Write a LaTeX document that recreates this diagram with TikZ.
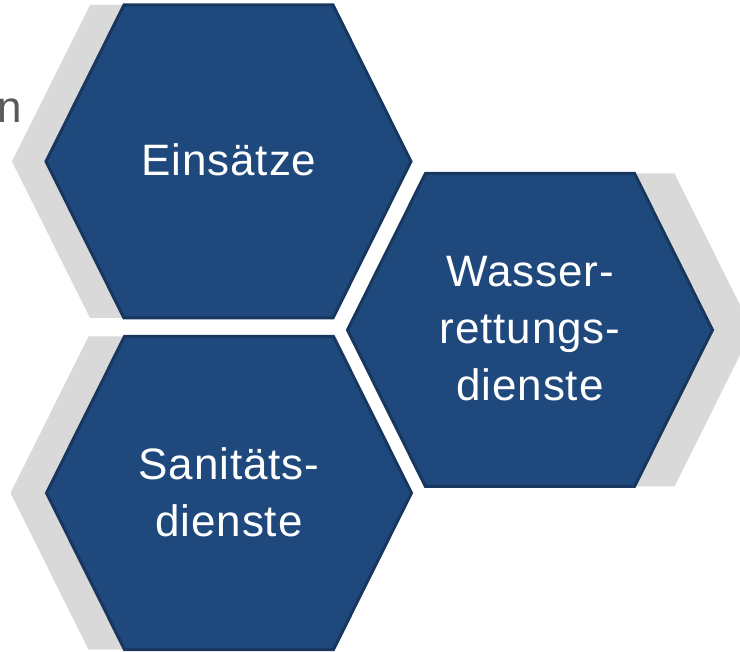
\documentclass[tikz,border=0pt]{standalone}
\usepackage{fontspec}
\setmainfont{Liberation Sans}[LetterSpace=2]
\definecolor{hexfill}{HTML}{1F497D}
\definecolor{hexline}{HTML}{17375E}
\definecolor{hexshadow}{HTML}{D9D9D9}
\definecolor{sidegrey}{HTML}{595959}
\newcommand{\hexat}[2]{({#1-182.5},{#2}) -- ({#1-104.5},{#2-156.5}) -- ({#1+104.5},{#2-156.5}) -- ({#1+182.5},{#2}) -- ({#1+104.5},{#2+156.5}) -- ({#1-104.5},{#2+156.5}) -- cycle}
\tikzset{
  shadowhex/.style={fill=hexshadow, draw=none},
  bluehex/.style={fill=hexfill, draw=hexline, line width=3pt, line join=miter},
  hexlabel/.style={text=white, align=center, inner sep=0pt, font=\fontsize{44}{57}\selectfont},
  sidelabel/.style={text=sidegrey, inner sep=0pt, font=\fontsize{44}{57}\selectfont}
}
\begin{document}
\begin{tikzpicture}[x=1pt, y=-1pt]
\useasboundingbox (0,0) rectangle (740,652);
\clip (0,0) rectangle (740,652);
% shadows
\fill[shadowhex] \hexat{194.5}{161.5};
\fill[shadowhex] \hexat{193}{493};
\fill[shadowhex] \hexat{570}{330};
% hexagons
\draw[bluehex] \hexat{228.5}{161.5};
\draw[bluehex] \hexat{229}{493};
\draw[bluehex] \hexat{530}{330};
% labels
\node[hexlabel] (einsaetze) at (229,160) {Einsätze};
\node[hexlabel] (sanitaet) at (229,492) {Sanitäts-\\dienste};
\node[hexlabel] (wasser) at (530,329) {Wasser-\\rettungs-\\dienste};
\node[sidelabel, anchor=base east] (cutword) at (22,123) {n};
\end{tikzpicture}
\end{document}
